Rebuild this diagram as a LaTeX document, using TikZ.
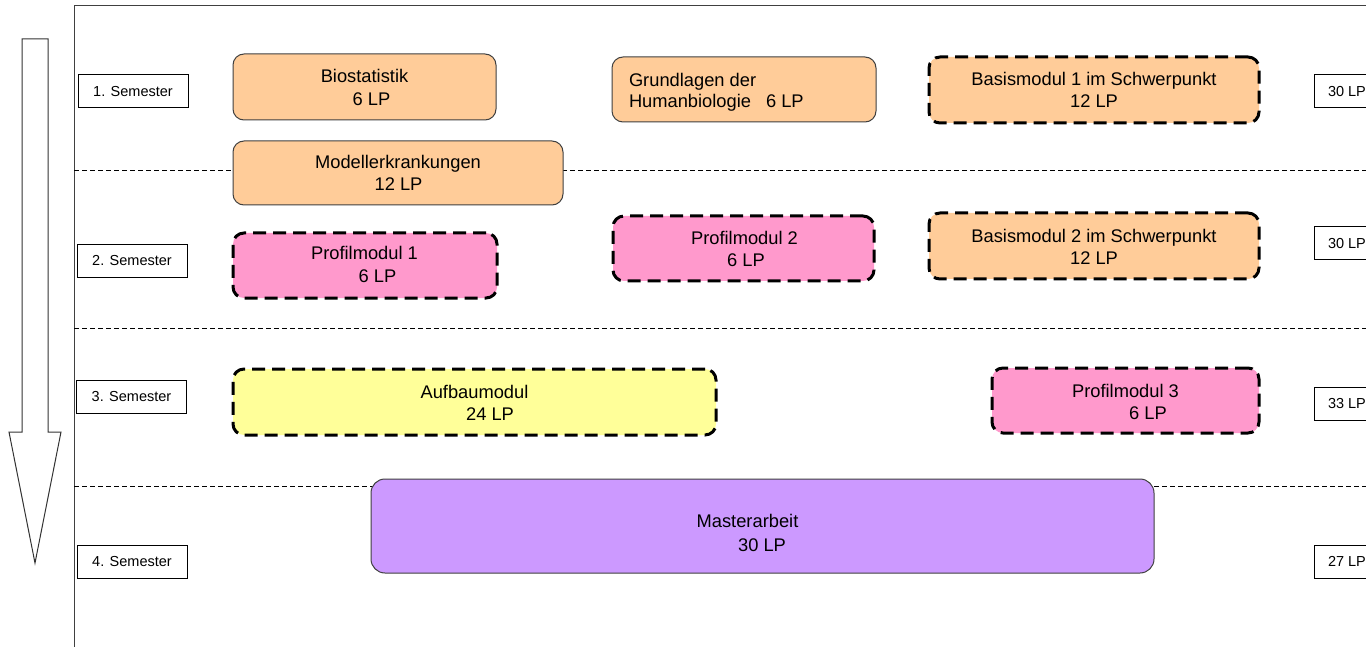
\documentclass[tikz,border=0pt]{standalone}
\usepackage{fontspec}
\setmainfont{Liberation Sans}
\definecolor{orangeC}{HTML}{FFCC99}
\definecolor{pinkC}{HTML}{FF99CC}
\definecolor{yellowC}{HTML}{FFFF99}
\definecolor{purpleC}{HTML}{CC99FF}
\definecolor{edgeC}{HTML}{404040}
\begin{document}
\begin{tikzpicture}[x=1pt,y=-1pt,
  modbox/.style={draw=edgeC, line width=1pt, rounded corners=11pt, anchor=north west,
    inner sep=0pt, outer sep=0pt},
  dashbox/.style={draw=black, line width=3pt, dash pattern=on 13pt off 7pt, rounded corners=11pt,
    anchor=north west, inner sep=0pt, outer sep=0pt},
  modtext/.style={font=\fontsize{18.3}{22}\selectfont, inner sep=0pt, outer sep=0pt, anchor=base},
  semlabel/.style={draw=black, line width=1pt, font=\fontsize{14.5}{17}\selectfont,
    minimum width=110pt, minimum height=33pt, inner sep=0pt, outer sep=0pt},
  lplabel/.style={draw=black, line width=1pt, font=\fontsize{14.5}{17}\selectfont,
    minimum height=33pt, inner xsep=14pt, inner ysep=0pt, outer sep=0pt, anchor=north west},
  sepline/.style={draw=black, line width=1pt, dash pattern=on 5pt off 3pt},
  frameline/.style={draw=edgeC, line width=1pt},
  arrowline/.style={draw=black!80, line width=1pt, fill=white}
]
\useasboundingbox (0,0) rectangle (1366,647);
\clip (0,0) rectangle (1366,647);
\fill[white] (0,0) rectangle (1366,647);

% frame
\draw[frameline] (74,650) -- (74,6) -- (1370,6);

% semester separators
\draw[sepline] (74,171) -- (1370,171);
\draw[sepline] (74,328) -- (1370,328);
\draw[sepline] (74,486) -- (1370,486);

% time arrow
\draw[arrowline] (22,39) -- (48,39) -- (48,432) -- (61,432) -- (35,563) -- (9,432) -- (22,432) -- cycle;

% semester labels
\node[semlabel] (s1) at (133,91.5) {1. Semester};
\node[semlabel] (s2) at (132,261) {2. Semester};
\node[semlabel] (s3) at (131.5,397) {3. Semester};
\node[semlabel] (s4) at (132,562) {4. Semester};

% LP sums
\node[lplabel] (lp1) at (1314,75) {30 LP};
\node[lplabel] (lp2) at (1314,227) {30 LP};
\node[lplabel] (lp3) at (1314,387) {33 LP};
\node[lplabel] (lp4) at (1314,545) {27 LP};

% semester 1
\node[modbox, fill=orangeC, minimum width=263pt, minimum height=66pt] (bio) at (233,54) {};
\node[modtext] (bioA) at (364.5,83) {Biostatistik};
\node[modtext] (bioB) at (371.5,106) {6 LP};

\node[modbox, fill=orangeC, minimum width=264pt, minimum height=65pt] (hum) at (612,57) {};
\node[modtext, anchor=base west] (humA) at (629,87) {Grundlagen der};
\node[modtext, anchor=base west] (humB) at (629,108) {Humanbiologie\hspace{15pt}6 LP};

\node[dashbox, fill=orangeC, minimum width=330pt, minimum height=66pt] (bas1) at (929,57) {};
\node[modtext] (bas1A) at (1094,86) {Basismodul 1 im Schwerpunkt};
\node[modtext] (bas1B) at (1094,108) {12 LP};

\node[modbox, fill=orangeC, minimum width=330pt, minimum height=64pt] (mod) at (233,141) {};
\node[modtext] (modA) at (398,169) {Modellerkrankungen};
\node[modtext] (modB) at (398.5,191) {12 LP};

% semester 2
\node[dashbox, fill=pinkC, minimum width=264pt, minimum height=65pt] (pm1) at (233,233) {};
\node[modtext] (pm1A) at (364.5,260) {Profilmodul 1};
\node[modtext] (pm1B) at (377.5,283) {6 LP};

\node[dashbox, fill=pinkC, minimum width=261pt, minimum height=65pt] (pm2) at (613,216) {};
\node[modtext] (pm2A) at (744.5,245) {Profilmodul 2};
\node[modtext] (pm2B) at (746,267) {6 LP};

\node[dashbox, fill=orangeC, minimum width=330pt, minimum height=66pt] (bas2) at (929,213) {};
\node[modtext] (bas2A) at (1094,243) {Basismodul 2 im Schwerpunkt};
\node[modtext] (bas2B) at (1094,265) {12 LP};

% semester 3
\node[dashbox, fill=yellowC, minimum width=483pt, minimum height=66pt] (auf) at (233,369) {};
\node[modtext] (aufA) at (474.5,398) {Aufbaumodul};
\node[modtext] (aufB) at (490,420) {24 LP};

\node[dashbox, fill=pinkC, minimum width=267pt, minimum height=65pt] (pm3) at (992,368) {};
\node[modtext] (pm3A) at (1125.5,397) {Profilmodul 3};
\node[modtext] (pm3B) at (1148,419) {6 LP};

% semester 4
\node[modbox, fill=purpleC, minimum width=783pt, minimum height=94pt, rounded corners=14pt] (ma) at (371,479) {};
\node[modtext] (maA) at (747.5,527) {Masterarbeit};
\node[modtext] (maB) at (762,551) {30 LP};
\end{tikzpicture}
\end{document}
